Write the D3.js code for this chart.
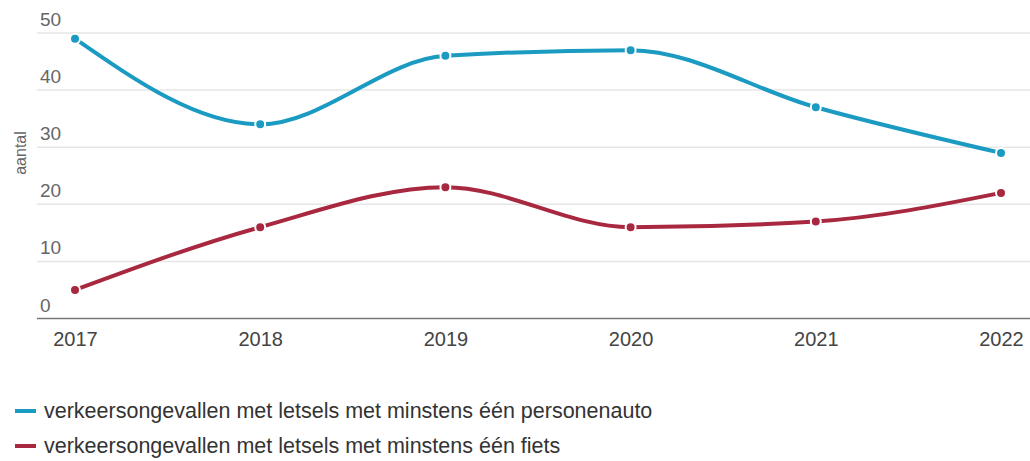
<!DOCTYPE html>
<html>
<head>
<meta charset="utf-8">
<script src="https://cdn.jsdelivr.net/npm/d3@7"></script>
<style>
  body { margin: 0; background: #fff; }
  text { font-family: "Liberation Sans", Arial, sans-serif; }
</style>
</head>
<body>
<svg id="chart" width="1030" height="461"></svg>
<script>
// DATA
var years = ["2017", "2018", "2019", "2020", "2021", "2022"];
var autoValues = [49, 34, 46, 47, 37, 29];
var fietsValues = [5, 16, 23, 16, 17, 22];
var yTicks = [0, 10, 20, 30, 40, 50];
var seriesNames = [
  "verkeersongevallen met letsels met minstens één personenauto",
  "verkeersongevallen met letsels met minstens één fiets"
];
var seriesColors = ["#1b9ac2", "#a8283f"];

var series = [
  { name: seriesNames[0], color: seriesColors[0], values: autoValues },
  { name: seriesNames[1], color: seriesColors[1], values: fietsValues }
];

// SIZING
var plotLeft = 37, plotRight = 1030, plotTop = 33, plotBottom = 318.5;

var svg = d3.select("#chart");

var x = d3.scalePoint()
  .domain(years)
  .range([75, 1001]);

var y = d3.scaleLinear()
  .domain([0, 50])
  .range([plotBottom, plotTop]);

// GRID
svg.append("g").selectAll("line.grid")
  .data(yTicks.filter(function(d) { return d > 0; }))
  .enter()
  .append("line")
  .attr("class", "grid")
  .attr("x1", plotLeft)
  .attr("x2", plotRight)
  .attr("y1", function(d) { return y(d); })
  .attr("y2", function(d) { return y(d); })
  .style("stroke", "#e6e6e6")
  .style("stroke-width", 1.5);

// y tick labels sit above the grid line
svg.append("g").selectAll("text.ytick")
  .data(yTicks)
  .enter()
  .append("text")
  .attr("class", "ytick")
  .attr("x", 40)
  .attr("y", function(d) { return y(d) - 7; })
  .text(function(d) { return d; })
  .style("font-size", "19px")
  .style("fill", "#666");

// axis title
svg.append("text")
  .attr("transform", "translate(26,153) rotate(-90)")
  .style("text-anchor", "middle")
  .style("font-size", "16px")
  .style("fill", "#666")
  .text("aantal");

// X AXIS
var xAxis = svg.append("g")
  .attr("transform", "translate(0," + plotBottom + ")")
  .call(d3.axisBottom(x).tickSize(0).tickPadding(13));
xAxis.select(".domain").remove();
xAxis.selectAll("text")
  .style("font-family", "'Liberation Sans', Arial, sans-serif")
  .style("font-size", "20px")
  .style("fill", "#444");
svg.append("line")
  .attr("x1", plotLeft)
  .attr("x2", plotRight)
  .attr("y1", plotBottom)
  .attr("y2", plotBottom)
  .style("stroke", "#777")
  .style("stroke-width", 1.5);

// LINES
var line = d3.line()
  .x(function(d, i) { return x(years[i]); })
  .y(function(d) { return y(d); })
  .curve(d3.curveMonotoneX);

series.forEach(function(s) {
  svg.append("path")
    .attr("d", line(s.values))
    .style("fill", "none")
    .style("stroke", s.color)
    .style("stroke-width", 4)
    .style("stroke-linecap", "round");

  svg.append("g").selectAll("circle")
    .data(s.values)
    .enter()
    .append("circle")
    .attr("cx", function(d, i) { return x(years[i]); })
    .attr("cy", function(d) { return y(d); })
    .attr("r", 5)
    .style("fill", s.color)
    .style("stroke", "#fff")
    .style("stroke-width", 2);
});

// LEGEND
var legend = svg.append("g").selectAll("g.legend")
  .data(series)
  .enter()
  .append("g")
  .attr("class", "legend")
  .attr("transform", function(d, i) { return "translate(15," + (411 + i * 35) + ")"; });

legend.append("line")
  .attr("x1", 0)
  .attr("x2", 21)
  .style("stroke", function(d) { return d.color; })
  .style("stroke-width", 4);

legend.append("text")
  .attr("x", 29)
  .attr("y", 7)
  .text(function(d) { return d.name; })
  .style("font-size", "21.5px")
  .style("fill", "#333");
</script>
</body>
</html>
